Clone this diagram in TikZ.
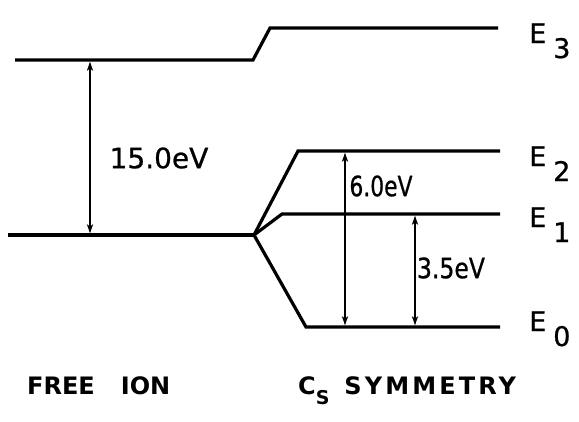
\documentclass[tikz,border=0pt]{standalone}
\usepackage{fontspec}
\usepackage{graphicx}
\setsansfont{DejaVu Sans}
\newfontfamily\valfont[FakeBold=0.8]{DejaVu Sans}
\newfontfamily\capfont{DejaVu Sans Bold}
\newfontfamily\capwide[LetterSpace=13]{DejaVu Sans Bold}
\usetikzlibrary{arrows.meta}
\begin{document}
\begin{tikzpicture}[x=1pt,y=-1pt,
  level/.style={line width=3.2pt, line join=miter},
  gap/.style={line width=1.5pt, {Stealth[length=9pt,width=6pt,inset=2pt]}-{Stealth[length=9pt,width=6pt,inset=2pt]}, shorten >=1.6pt, shorten <=1.6pt},
  val/.style={font=\valfont\fontsize{28}{30}\selectfont, inner sep=0pt},
  elab/.style={font=\valfont\fontsize{27}{29}\selectfont, inner sep=0pt, anchor=base west},
  caption/.style={font=\capfont\fontsize{24}{26}\selectfont, inner sep=0pt, anchor=base west}]
\useasboundingbox[fill=white] (0,0) rectangle (579,421);
% free-ion upper level and E3
\coordinate (a3L) at (15,60);
\coordinate (a3B) at (253,60);
\coordinate (a3T) at (270,28);
\coordinate (a3R) at (498,28);
\draw[level] (a3L) -- (a3B) -- (a3T) -- (a3R);
% free-ion ground level and splitting
\coordinate (gL) at (8,235);
\coordinate (gV) at (254,235);
\coordinate (e2C) at (298,151);
\coordinate (e2R) at (500,151);
\coordinate (e1C) at (282,214);
\coordinate (e1R) at (500,214);
\coordinate (e0C) at (306,327);
\coordinate (e0R) at (500,327);
\draw[level] (gL) -- (gV);
\draw[level] (gV) -- (e2C) -- (e2R);
\draw[level] (gV) -- (e1C) -- (e1R);
\draw[level] (gV) -- (e0C) -- (e0R);
% gap arrows
\coordinate (g15t) at (90,60);
\coordinate (g15b) at (90,235);
\coordinate (g6t) at (345,151);
\coordinate (g6b) at (345,327);
\coordinate (g35t) at (415,214);
\coordinate (g35b) at (415,327);
\draw[gap] (g15t) -- (g15b);
\draw[gap] (g6t) -- (g6b);
\draw[gap] (g35t) -- (g35b);
% values
\node[val] (v15) at (159,158) {15.0eV};
\node[val] (v6) at (381,186) {\scalebox{0.78}[1]{6.0eV}};
\node[val] (v35) at (451,268) {\scalebox{0.84}[1]{3.5eV}};
% level labels
\node[elab] (t3) at (529,43) {E\hspace{7pt}\raisebox{-15pt}{3}};
\node[elab] (t2) at (529,166) {E\hspace{7pt}\raisebox{-15pt}{2}};
\node[elab] (t1) at (529,227) {E\hspace{7pt}\raisebox{-15pt}{1}};
\node[elab] (t0) at (529,331) {E\hspace{7pt}\raisebox{-15pt}{0}};
% captions
\node[caption] (c1) at (27,394) {FREE\hspace{26pt}ION};
\node[caption] (c2) at (298,394) {C\raisebox{-10pt}{\fontsize{19}{21}\selectfont S}\hspace{15pt}{\capwide SYMMETRY}};
\end{tikzpicture}
\end{document}
